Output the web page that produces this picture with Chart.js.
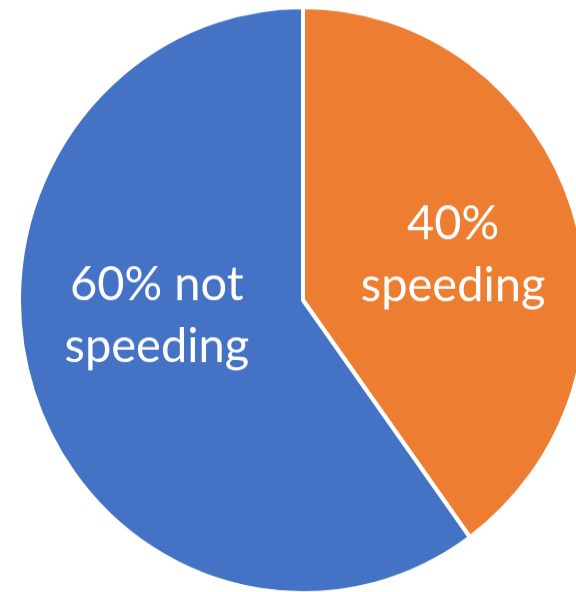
<!DOCTYPE html>
<html>
<head>
<meta charset="utf-8">
<script src="https://cdn.jsdelivr.net/npm/chart.js@4.4.0/dist/chart.umd.min.js"></script>
<style>
    html, body { margin: 0; padding: 0; background: #fff; overflow: hidden; }
    body { width: 576px; height: 592px; position: relative; }
    /* the reference pie is slightly taller than wide */
    .wrap {
        position: absolute;
        left: 17px;
        top: 5px;
        width: 572px;
        height: 572px;
        transform: scaleY(1.032);
        transform-origin: top left;
    }
</style>
</head>
<body>
<div class="wrap"><canvas id="pieChart" width="572" height="572"></canvas></div>
<script>
const categories = ['speeding', 'not speeding'];
const shares = [40, 60];
const labelLines = [['40%', 'speeding'], ['60% not', 'speeding']];
const colors = ['#ED7D31', '#4472C4'];

// nudges for each label, relative to the middle of its slice
const labelShift = [[7, 18], [-3, -17]];

const sliceLabels = {
    id: 'sliceLabels',
    afterDatasetsDraw(chart) {
        const ctx = chart.ctx;
        const arcs = chart.getDatasetMeta(0).data;
        ctx.save();
        ctx.fillStyle = '#fff';
        ctx.font = '47px Lato';
        ctx.textAlign = 'center';
        ctx.textBaseline = 'alphabetic';
        arcs.forEach((arc, i) => {
            const p = arc.getProps(['x', 'y', 'startAngle', 'endAngle', 'outerRadius'], true);
            const mid = (p.startAngle + p.endAngle) / 2;
            const r = p.outerRadius * 0.53;
            const cx = p.x + Math.cos(mid) * r + labelShift[i][0];
            const cy = p.y + Math.sin(mid) * r + labelShift[i][1];
            const lines = labelLines[i];
            const gap = 60;
            lines.forEach((line, j) => {
                ctx.fillText(line, cx, cy + (j - (lines.length - 1) / 2) * gap);
            });
        });
        ctx.restore();
    }
};

new Chart(document.getElementById('pieChart'), {
    type: 'pie',
    data: {
        labels: categories,
        datasets: [{
            data: shares,
            backgroundColor: colors,
            borderColor: '#fff',
            borderWidth: 4
        }]
    },
    options: {
        responsive: false,
        animation: false,
        layout: { padding: 0 },
        plugins: {
            legend: { display: false },
            tooltip: { enabled: false }
        }
    },
    plugins: [sliceLabels]
});
</script>
</body>
</html>
